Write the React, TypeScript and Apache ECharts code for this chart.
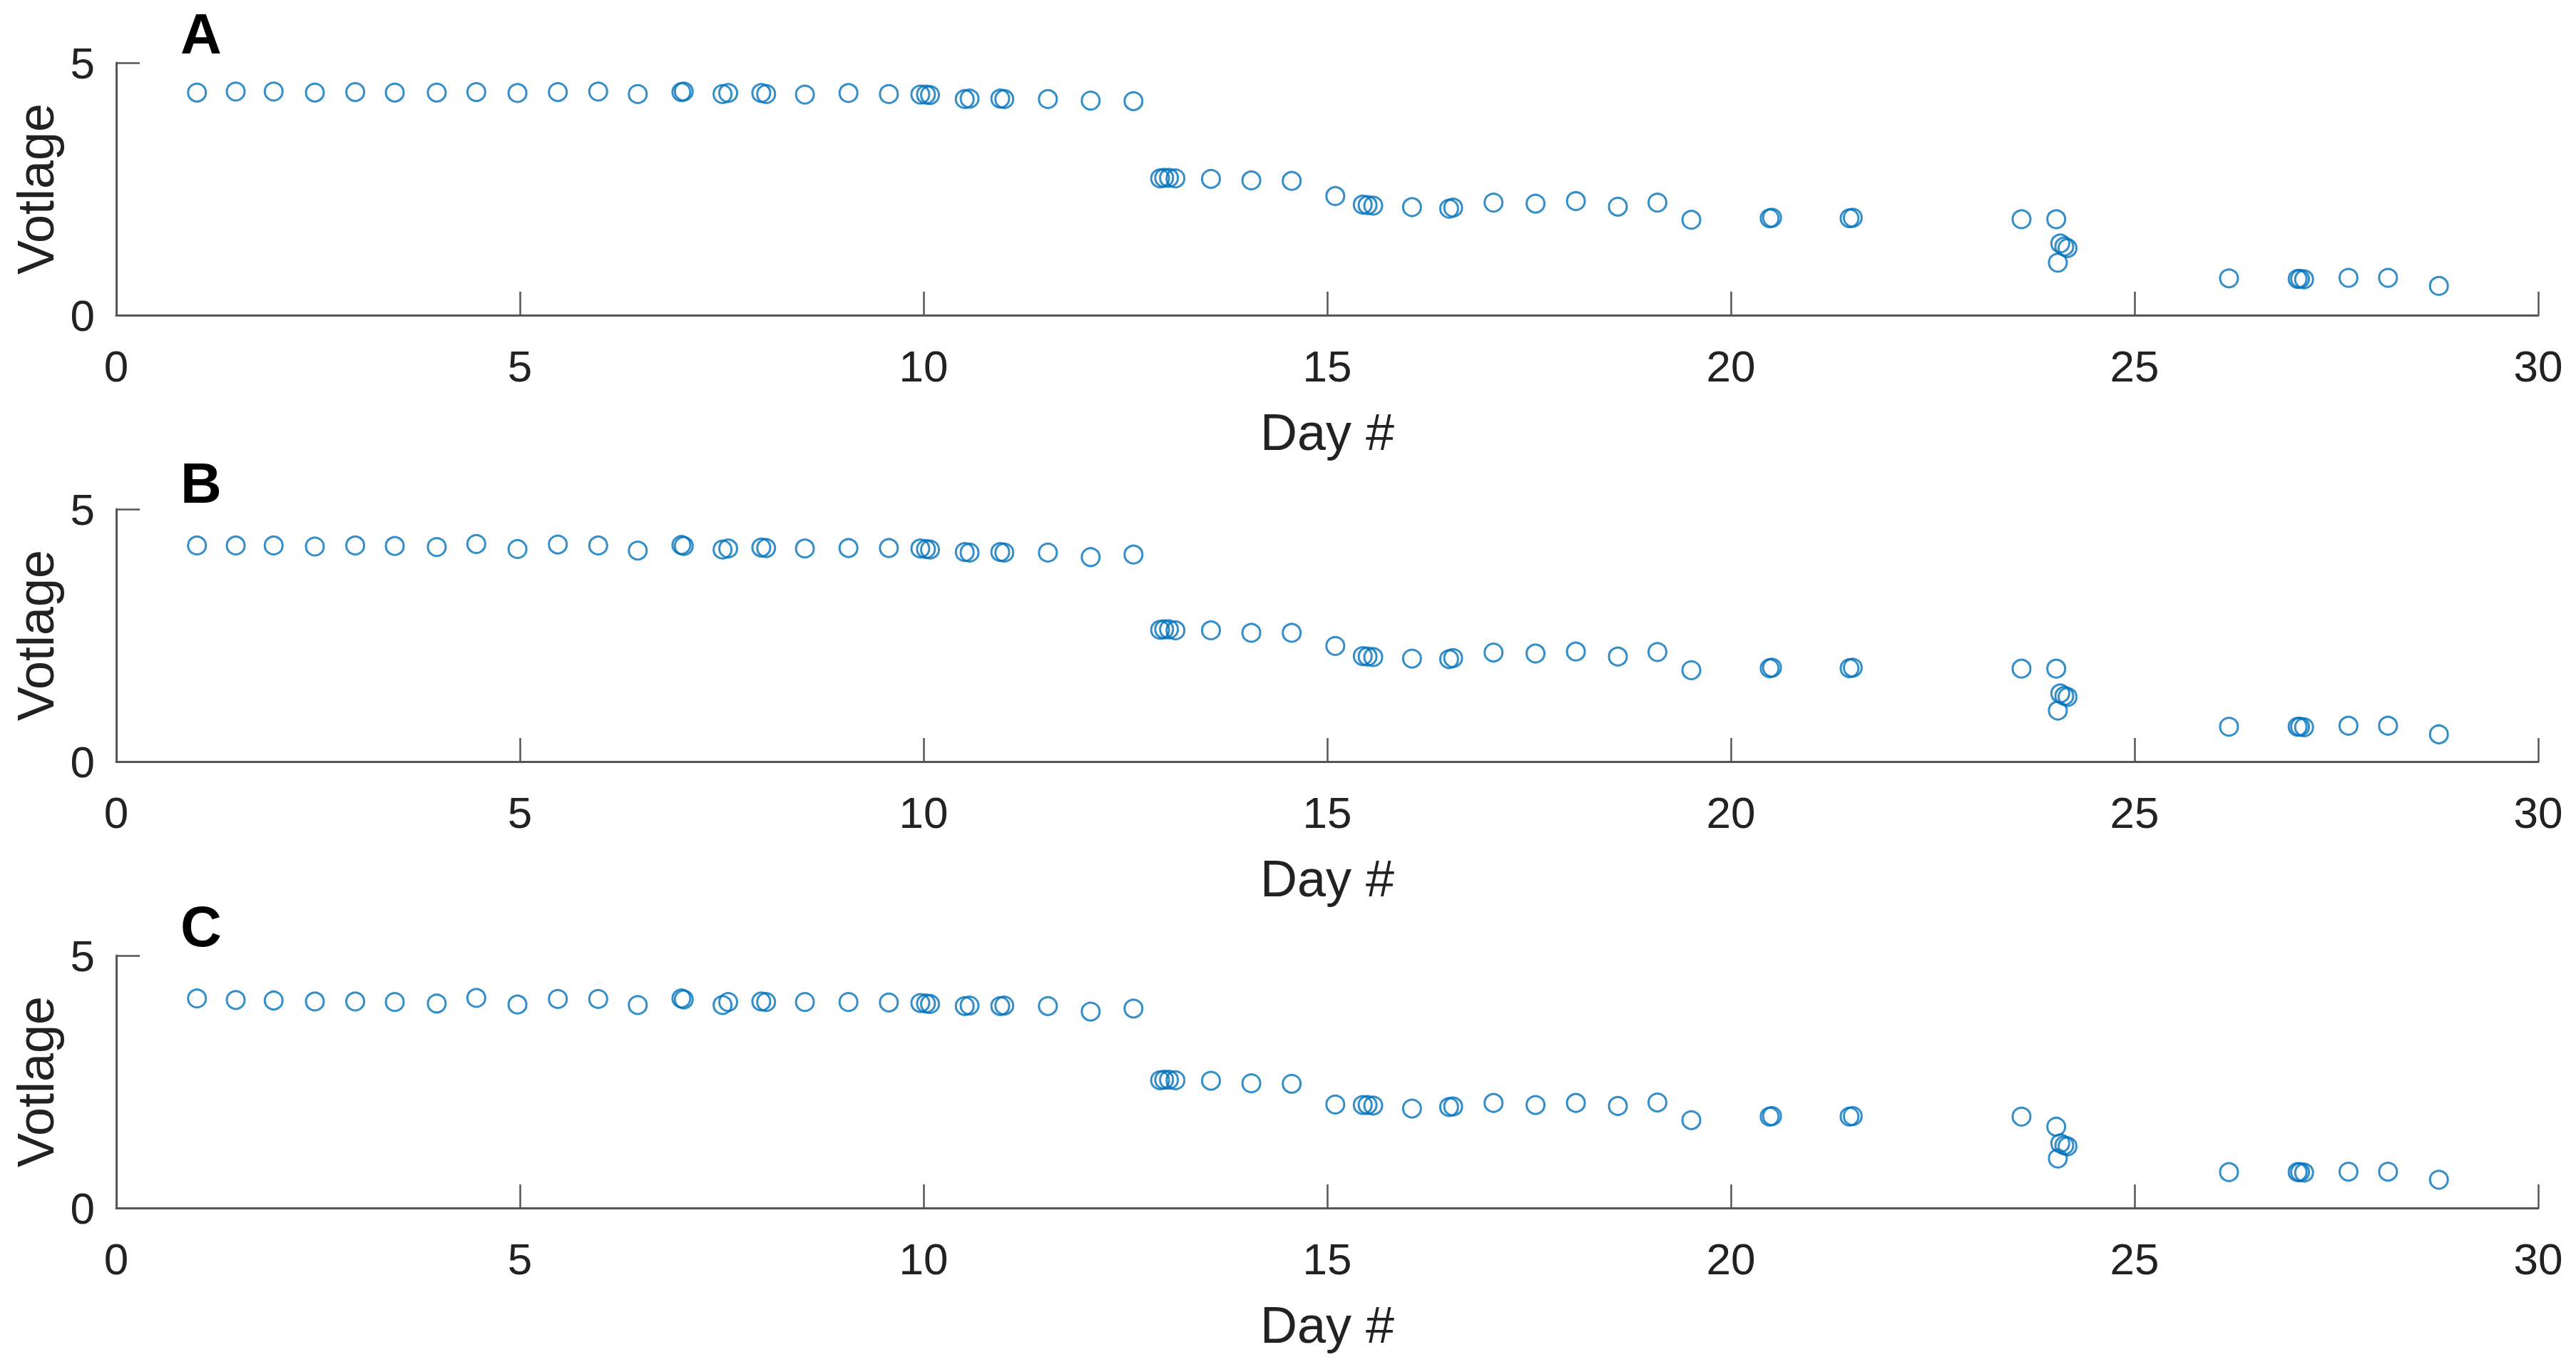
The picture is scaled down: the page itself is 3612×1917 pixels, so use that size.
import React, { useEffect, useRef } from "react";
import * as echarts from "echarts";

const days = [
  1.0, 1.48, 1.95, 2.46, 2.96, 3.45, 3.97, 4.46, 4.97, 5.47, 5.97, 6.46, 7.0, 7.03, 7.51, 7.58,
  7.99, 8.05, 8.53, 9.07, 9.57, 9.96, 10.03, 10.08, 10.51, 10.57, 10.95, 11.0, 11.54, 12.07, 12.6,
  12.93, 12.98, 13.04, 13.12, 13.56, 14.06, 14.56, 15.1, 15.44, 15.5, 15.57, 16.05, 16.51, 16.56,
  17.06, 17.58, 18.08, 18.6, 19.09, 19.51, 20.48, 20.51, 21.47, 21.51, 23.6, 24.03, 24.05, 24.08,
  24.13, 24.17, 26.17, 27.02, 27.05, 27.1, 27.65, 28.14, 28.77,
];

const voltageA = [
  4.41, 4.43, 4.43, 4.41, 4.42, 4.41, 4.41, 4.42, 4.40, 4.42, 4.43, 4.38, 4.42, 4.43, 4.38, 4.40,
  4.40, 4.38, 4.37, 4.40, 4.38, 4.37, 4.37, 4.36, 4.28, 4.29, 4.29, 4.28, 4.28, 4.25, 4.24,
  2.71, 2.72, 2.72, 2.71, 2.70, 2.67, 2.66, 2.36, 2.19, 2.18, 2.17, 2.14, 2.11, 2.13,
  2.23, 2.21, 2.26, 2.15, 2.23, 1.89, 1.92, 1.93, 1.92, 1.93, 1.90, 1.90, 1.04, 1.42,
  1.36, 1.33, 0.73, 0.72, 0.72, 0.71, 0.74, 0.74, 0.58,
];

const voltageB = [
  4.28, 4.28, 4.28, 4.26, 4.28, 4.27, 4.25, 4.31, 4.21, 4.30, 4.28, 4.18, 4.29, 4.27, 4.20, 4.22,
  4.24, 4.23, 4.22, 4.23, 4.23, 4.22, 4.21, 4.20, 4.15, 4.14, 4.15, 4.14, 4.14, 4.05, 4.10,
  2.61, 2.62, 2.62, 2.60, 2.60, 2.55, 2.55, 2.29, 2.09, 2.08, 2.07, 2.04, 2.03, 2.05,
  2.16, 2.14, 2.18, 2.08, 2.17, 1.81, 1.85, 1.86, 1.85, 1.86, 1.84, 1.84, 1.01, 1.35,
  1.30, 1.28, 0.69, 0.69, 0.69, 0.68, 0.71, 0.71, 0.54,
];

const voltageC = [
  4.15, 4.12, 4.11, 4.09, 4.09, 4.08, 4.05, 4.16, 4.03, 4.14, 4.14, 4.02, 4.15, 4.13, 4.02, 4.08,
  4.09, 4.08, 4.08, 4.08, 4.07, 4.06, 4.05, 4.04, 4.00, 4.01, 4.00, 4.01, 4.00, 3.89, 3.95,
  2.53, 2.54, 2.54, 2.53, 2.52, 2.47, 2.46, 2.05, 2.04, 2.04, 2.03, 1.97, 2.00, 2.01,
  2.08, 2.04, 2.08, 2.02, 2.09, 1.74, 1.81, 1.82, 1.81, 1.82, 1.81, 1.61, 0.98, 1.28,
  1.24, 1.22, 0.71, 0.71, 0.71, 0.70, 0.72, 0.72, 0.56,
];

const panelLabels = ["A", "B", "C"];
const xTitle = "Day #";
const yTitle = "Votlage";

const FONT = "'Liberation Sans', Arial, Helvetica, sans-serif";
const AXIS_COLOR = "#555555";
const TEXT_COLOR = "#222222";
const MARKER_COLOR = "#0072BD";

export default function App() {
  const ref = useRef<HTMLDivElement>(null);

  useEffect(() => {
    if (!ref.current) return;
    const chart = echarts.init(ref.current, null, { renderer: "svg" });

    const gridTops = [88, 714, 1340];
    const gridHeight = 354;
    const seriesData = [voltageA, voltageB, voltageC];

    const grids = gridTops.map((top) => ({
      left: 163,
      right: 53,
      top,
      height: gridHeight,
      containLabel: false,
    }));

    const xAxes = gridTops.map((_, i) => ({
      type: "value",
      gridIndex: i,
      min: 0,
      max: 30,
      interval: 5,
      name: xTitle,
      nameLocation: "middle",
      nameGap: 128,
      nameTextStyle: { fontFamily: FONT, fontSize: 72, color: TEXT_COLOR },
      axisLine: { show: true, lineStyle: { color: AXIS_COLOR, width: 3 } },
      axisTick: { show: true, inside: true, length: 33, lineStyle: { color: AXIS_COLOR, width: 2.5 } },
      axisLabel: {
        show: true,
        margin: 40,
        fontFamily: FONT,
        fontSize: 62,
        color: TEXT_COLOR,
        showMinLabel: true,
        showMaxLabel: true,
      },
      splitLine: { show: false },
    }));

    const yAxes = gridTops.map((_, i) => ({
      type: "value",
      gridIndex: i,
      min: 0,
      max: 5,
      interval: 5,
      name: yTitle,
      nameLocation: "middle",
      nameGap: 77,
      nameTextStyle: { fontFamily: FONT, fontSize: 72, color: TEXT_COLOR },
      axisLine: { show: true, lineStyle: { color: AXIS_COLOR, width: 3 } },
      axisTick: { show: true, inside: true, length: 33, lineStyle: { color: AXIS_COLOR, width: 2.5 } },
      axisLabel: {
        show: true,
        margin: 30,
        fontFamily: FONT,
        fontSize: 62,
        color: TEXT_COLOR,
        showMinLabel: true,
        showMaxLabel: true,
      },
      splitLine: { show: false },
    }));

    const series = seriesData.map((vals, i) => ({
      type: "scatter",
      xAxisIndex: i,
      yAxisIndex: i,
      symbol: "circle",
      symbolSize: 25,
      data: days.map((d, j) => [d, vals[j]]),
      itemStyle: { color: "rgba(0,0,0,0)", borderColor: MARKER_COLOR, borderWidth: 3 },
      emphasis: { disabled: true },
    }));

    const labelY = [47, 677, 1299];
    const graphic = panelLabels.map((t, i) => ({
      type: "text",
      x: 253,
      y: labelY[i],
      style: {
        text: t,
        fontFamily: FONT,
        fontSize: 80,
        lineHeight: 60,
        fontWeight: "bold",
        fill: "#000000",
        textAlign: "left",
        textVerticalAlign: "middle",
      },
    }));

    chart.setOption({
      animation: false,
      backgroundColor: "#ffffff",
      grid: grids,
      xAxis: xAxes,
      yAxis: yAxes,
      series,
      graphic,
    });

    return () => chart.dispose();
  }, []);

  return (
    <div
      ref={ref}
      style={{ position: "fixed", left: 0, top: 0, width: "3612px", height: "1917px", background: "#fff" }}
    />
  );
}
